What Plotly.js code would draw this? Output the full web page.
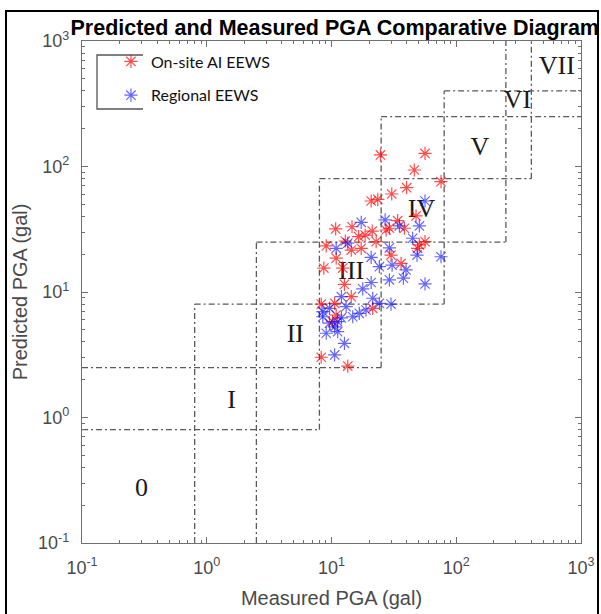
<!DOCTYPE html>
<html>
<head>
<meta charset="utf-8">
<script src="https://cdn.plot.ly/plotly-3.0.1.min.js"></script>
<style>
  html, body { margin: 0; padding: 0; background: #fff; }
  #wrap { position: relative; width: 601px; height: 614px; overflow: hidden; }
  #chart { position: absolute; left: 0; top: 0; width: 601px; height: 614px; }
  #frame { position: absolute; left: 5px; top: 10px; width: 590px; height: 640px;
           border: 2.5px solid #000; pointer-events: none; }
</style>
</head>
<body>
<div id="wrap">
  <div id="chart"></div>
  <div id="frame"></div>
</div>
<script>
// ---- data ----
const onsiteX = [24.7,56.2,46.1,75.5,40.0,30.4,20.8,23.5,10.8,14.6,16.5,18.6,21.2,27.4,29.1,33.9,38.4,47.6,9.07,12.9,14.4,17.3,22.8,10.9,8.68,12.3,30.0,36.1,50.6,56.2,49.0,12.7,14.4,8.27,10.6,10.9,21.4,8.27,13.5,10.2];
const onsiteY = [123.6,127,93.8,75.7,67.8,60.4,53.1,54.8,31.8,33.1,27.6,28.4,30.6,31.2,32.2,37.0,32.2,40.4,23.3,25.5,21.6,22.3,25.2,18.6,15.5,15.5,19.7,16.9,23.7,25.2,22.3,11.5,9.18,8.02,8.13,6.56,7.41,3.02,2.57,5.80];
const regionalX = [56.2,17.3,26.9,35.0,50.6,44.7,13.5,10.9,29.1,48.5,75.5,20.8,24.2,30.6,39.6,37.7,29.1,20.8,56.2,17.8,12.0,21.4,24.2,30.0,8.52,9.64,13.1,14.8,16.7,18.9,9.64,10.6,11.2,9.07,12.7,10.6,8.52,11.2,12.0];
const regionalY = [53.1,35.9,37.5,33.6,33.6,26.8,24.5,22.3,22.5,19.7,19.1,18.9,15.9,16.4,15.0,12.9,12.5,11.9,11.6,10.6,9.18,8.92,8.13,8.02,6.97,7.41,7.64,6.35,6.76,7.19,5.64,5.28,5.80,4.69,3.90,3.15,6.35,4.83,6.21];

// intensity level boundaries (gal), axis limits, level labels
const axisMin = 0.1, axisMax = 1000;
const levelBounds = [0.8, 2.5, 8, 25, 80, 250, 400];
const levelLabels = ['0','I','II','III','IV','V','VI','VII'];
const labelX = [0.30, 1.58, 5.13, 14.4, 52.7, 155, 309, 640];
const labelY = [0.265, 1.33, 4.48, 14.2, 44.8, 139, 328, 610];

const seriesNames = ['On-site AI EEWS', 'Regional EEWS'];
const decadeTicks = [0.1, 1, 10, 100, 1000];
const decadeText = ['10<sup>-1</sup>','10<sup>0</sup>','10<sup>1</sup>','10<sup>2</sup>','10<sup>3</sup>'];

// ---- build zone lines: each boundary spans two levels each side ----
const B = [axisMin].concat(levelBounds, [axisMax]);
const zx = [], zy = [];
for (let j = 1; j < B.length - 1; j++) {
  const lo = B[Math.max(j - 2, 0)], hi = B[Math.min(j + 2, B.length - 1)];
  zx.push(B[j], B[j], null); zy.push(lo, hi, null);   // vertical
  zx.push(lo, hi, null);     zy.push(B[j], B[j], null); // horizontal
}

const minorVals = [];
for (let e = -1; e < 3; e++) for (let m = 2; m <= 9; m++) minorVals.push(m * Math.pow(10, e));

const traces = [
  { x: zx, y: zy, type: 'scatter', mode: 'lines', hoverinfo: 'skip', showlegend: false,
    line: { color: '#5a5a5a', width: 1.3, dash: '6px,3px,2px,3px' } },
  { x: labelX, y: labelY, type: 'scatter', mode: 'text', text: levelLabels, hoverinfo: 'skip',
    showlegend: false, textposition: 'middle center',
    textfont: { family: 'Liberation Serif, DejaVu Serif, serif', size: 26, color: '#1a1a1a' } },
  { x: onsiteX, y: onsiteY, type: 'scatter', mode: 'markers', name: seriesNames[0], legendgroup: 'a',
    marker: { symbol: 'asterisk-open', size: 11, color: 'rgba(255,0,0,0.7)',
              line: { color: 'rgba(255,0,0,0.7)', width: 1.2 } } },
  { x: regionalX, y: regionalY, type: 'scatter', mode: 'markers', name: seriesNames[1], legendgroup: 'b',
    marker: { symbol: 'asterisk-open', size: 11, color: 'rgba(0,0,255,0.6)',
              line: { color: 'rgba(0,0,255,0.6)', width: 1.2 } } }
];

const axisCommon = {
  type: 'log', range: [-1, 3], showgrid: false, zeroline: false,
  showline: true, linecolor: '#707070', linewidth: 1.2, mirror: 'allticks',
  ticks: 'inside', ticklen: 6, tickcolor: '#707070', tickwidth: 1,
  tickmode: 'array', tickvals: decadeTicks, ticktext: decadeText,
  tickfont: { family: 'Liberation Sans, Arial, sans-serif', size: 18, color: '#4a4a4a' },
  minor: { tickmode: 'array', tickvals: minorVals, ticks: 'inside', ticklen: 3, tickcolor: '#707070' }
};

const layout = {
  width: 601, height: 614,
  margin: { l: 82, r: 20, t: 41, b: 71 },
  paper_bgcolor: '#fff', plot_bgcolor: '#fff',
  title: { text: '<b>Predicted and Measured PGA Comparative Diagram</b>',
           xref: 'container', x: 0.557, xanchor: 'center',
           yref: 'container', y: 0.956, yanchor: 'middle',
           font: { family: 'Liberation Sans, Arial, sans-serif', size: 21.5, color: '#000' } },
  xaxis: Object.assign({}, axisCommon, { ticklabelstandoff: 8,
    title: { text: 'Measured PGA (gal)', standoff: 14,
             font: { family: 'Liberation Sans, Arial, sans-serif', size: 20, color: '#4a4a4a' } } }),
  yaxis: Object.assign({}, axisCommon, { ticklabelstandoff: 8,
    title: { text: 'Predicted PGA (gal)', standoff: 5,
             font: { family: 'Liberation Sans, Arial, sans-serif', size: 20, color: '#4a4a4a' } } }),
  showlegend: true,
  legend: { x: 0.058, xanchor: 'left', y: 0.993, yanchor: 'top', bgcolor: 'rgba(0,0,0,0)',
            borderwidth: 0, tracegroupgap: 10,
            font: { family: 'Lato, Open Sans, sans-serif', size: 16, color: '#111' } },
  shapes: [
    { type: 'path', xref: 'paper', yref: 'paper',
      path: 'M ' + (61/499) + ' ' + (1 - 14/502) + ' L ' + (15/499) + ' ' + (1 - 14/502) +
            ' L ' + (15/499) + ' ' + (1 - 68/502) + ' L ' + (61/499) + ' ' + (1 - 68/502),
      line: { color: '#555', width: 1.3 } }
  ]
};

Plotly.newPlot('chart', traces, layout, { staticPlot: true, displayModeBar: false });
</script>
</body>
</html>
